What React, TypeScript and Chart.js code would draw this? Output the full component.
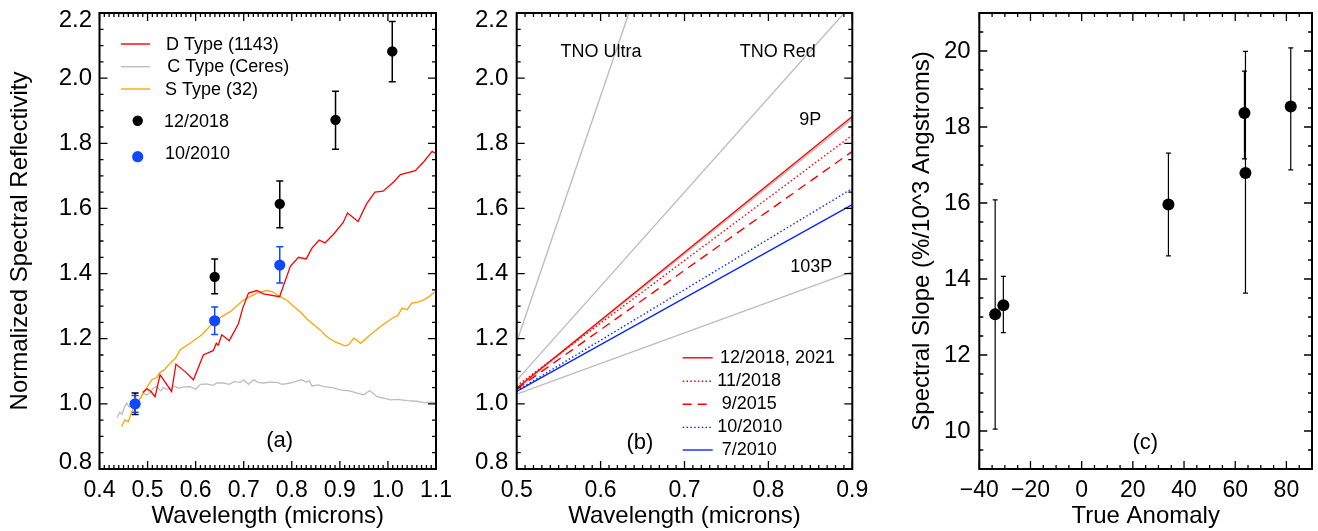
import React, { useEffect, useRef } from 'react';
import { Chart, registerables } from 'chart.js';

Chart.register(...registerables);

const FONT = "'Liberation Sans', Arial, Helvetica, sans-serif";

// ---------------- Panel (a): reflectance spectra ----------------
const dTypeWl = [0.49, 0.499, 0.507, 0.5156, 0.526, 0.55, 0.559, 0.578, 0.5955, 0.616, 0.637, 0.643, 0.647, 0.6545, 0.67, 0.689, 0.698, 0.71, 0.7275, 0.741, 0.7746, 0.797, 0.814, 0.83, 0.842, 0.857, 0.869, 0.8865, 0.907, 0.916, 0.938, 0.9556, 0.973, 0.99, 1.0125, 1.026, 1.057, 1.075, 1.092, 1.1];
const dTypeRefl = [1.035, 1.046, 1.038, 1.022, 1.089, 1.038, 1.122, 1.099, 1.074, 1.15, 1.164, 1.186, 1.18, 1.212, 1.194, 1.246, 1.294, 1.34, 1.348, 1.338, 1.329, 1.422, 1.45, 1.445, 1.478, 1.503, 1.494, 1.52, 1.557, 1.586, 1.56, 1.614, 1.65, 1.653, 1.682, 1.704, 1.716, 1.744, 1.775, 1.768];

const cTypeWl = [0.437, 0.442, 0.447, 0.452, 0.4567, 0.462, 0.468, 0.474, 0.482, 0.491, 0.498, 0.505, 0.512, 0.519, 0.527, 0.533, 0.54, 0.547, 0.556, 0.565, 0.575, 0.5885, 0.6, 0.61, 0.623, 0.635, 0.645, 0.658, 0.67, 0.68, 0.693, 0.7, 0.71, 0.7205, 0.73, 0.741, 0.755, 0.769, 0.78, 0.797, 0.81, 0.821, 0.83, 0.836, 0.842, 0.855, 0.866, 0.885, 0.901, 0.92, 0.936, 0.95, 0.962, 0.9775, 0.99, 1.005, 1.02, 1.04, 1.06, 1.0746, 1.09, 1.1];
const cTypeRefl = [0.958, 0.975, 0.968, 0.99, 1.002, 0.99, 1.008, 1.017, 1.01, 1.033, 1.027, 1.035, 1.048, 1.053, 1.04, 1.05, 1.045, 1.045, 1.055, 1.048, 1.052, 1.053, 1.045, 1.06, 1.061, 1.057, 1.064, 1.064, 1.06, 1.068, 1.066, 1.074, 1.06, 1.074, 1.066, 1.064, 1.067, 1.066, 1.06, 1.064, 1.07, 1.074, 1.066, 1.071, 1.055, 1.058, 1.053, 1.05, 1.043, 1.04, 1.033, 1.028, 1.041, 1.022, 1.018, 1.012, 1.014, 1.01, 1.008, 1.004, 1.005, 1.004];

const sTypeWl = [0.446, 0.453, 0.46, 0.467, 0.4775, 0.486, 0.495, 0.509, 0.518, 0.526, 0.535, 0.547, 0.558, 0.568, 0.5885, 0.613, 0.6406, 0.672, 0.6996, 0.714, 0.7275, 0.748, 0.76, 0.776, 0.79, 0.804, 0.818, 0.832, 0.845, 0.859, 0.87, 0.88, 0.89, 0.901, 0.91, 0.918, 0.923, 0.929, 0.936, 0.943, 0.9635, 0.984, 1.012, 1.02, 1.0296, 1.04, 1.05, 1.062, 1.0746, 1.086, 1.0955, 1.1];
const sTypeRefl = [0.93, 0.951, 0.945, 0.976, 1.002, 1.02, 1.043, 1.074, 1.08, 1.096, 1.105, 1.125, 1.14, 1.166, 1.186, 1.212, 1.256, 1.283, 1.319, 1.33, 1.34, 1.348, 1.344, 1.329, 1.318, 1.299, 1.282, 1.26, 1.244, 1.227, 1.21, 1.199, 1.19, 1.184, 1.178, 1.181, 1.19, 1.202, 1.195, 1.186, 1.212, 1.237, 1.266, 1.27, 1.294, 1.289, 1.309, 1.312, 1.319, 1.33, 1.342, 1.345];

const filterWl2018 = [0.474, 0.6396, 0.775, 0.891, 1.009];
const refl2018 = [1.0, 1.39, 1.614, 1.872, 2.082];
const refl2018Lo = [0.967, 1.338, 1.541, 1.782, 1.989];
const refl2018Hi = [1.033, 1.445, 1.684, 1.96, 2.174];

const filterWl2010 = [0.474, 0.6396, 0.775];
const refl2010 = [1.0, 1.255, 1.426];
const refl2010Lo = [0.974, 1.213, 1.371];
const refl2010Hi = [1.026, 1.297, 1.482];

const aXTicks = [0.4, 0.5, 0.6, 0.7, 0.8, 0.9, 1.0, 1.1];
const reflTicks = [0.8, 1.0, 1.2, 1.4, 1.6, 1.8, 2.0, 2.2];

// ---------------- Panel (b): slope lines ----------------
const slopeWl = [0.5, 0.9];
const tnoUltra = [1.19, 4.21];
const tnoRed = [1.072, 2.228];
const comet9P = [1.045, 1.875];
const comet103P = [1.03, 1.406];
const slope201812 = [1.048, 1.882];
const slope201811 = [1.055, 1.825];
const slope201509 = [1.045, 1.775];
const slope201010 = [1.04, 1.661];
const slope201007 = [1.038, 1.612];
const bXTicks = [0.5, 0.6, 0.7, 0.8, 0.9];

// ---------------- Panel (c): slope vs true anomaly ----------------
const trueAnomaly = [-33.8, -30.6, 33.9, 63.6, 64.0, 81.7];
const spectralSlope = [13.07, 13.31, 15.96, 18.37, 16.79, 18.54];
const spectralSlopeLo = [10.05, 12.59, 14.61, 17.16, 13.63, 16.87];
const spectralSlopeHi = [16.08, 14.07, 17.31, 19.47, 19.99, 20.08];
const anomalyTicks = [-40, -20, 0, 20, 40, 60, 80];
const slopeTicks = [10, 12, 14, 16, 18, 20];

const RED = '#ff0000';
const GRAY = '#bdbdbd';
const ORANGE = '#ffa500';
const BLUE_DOT = '#1048ff';
const BLUE_LINE = '#0a28ff';

const pts = (xs: number[], ys: number[]) => xs.map((x, i) => ({ x, y: ys[i] }));

// ---------------- plugins ----------------
function framePlugin(xMinorStep: number, yMinorStep: number, xMajor: number[], yMajor: number[]) {
  return {
    id: 'frameTicks',
    afterDraw(chart: any) {
      const { ctx, chartArea: a, scales } = chart;
      const xs = scales.x;
      const ys = scales.y;
      ctx.save();
      ctx.strokeStyle = '#000';
      ctx.lineWidth = 1.3;
      ctx.beginPath();
      const nx = Math.round((xs.max - xs.min) / xMinorStep);
      for (let i = 0; i <= nx; i++) {
        const v = xs.min + i * xMinorStep;
        const major = xMajor.some((m) => Math.abs(m - v) < xMinorStep / 10);
        const len = major ? 8 : 4;
        const px = xs.getPixelForValue(v);
        ctx.moveTo(px, a.bottom);
        ctx.lineTo(px, a.bottom - len);
        ctx.moveTo(px, a.top);
        ctx.lineTo(px, a.top + len);
      }
      const ny = Math.round((ys.max - ys.min) / yMinorStep);
      for (let i = 0; i <= ny; i++) {
        const v = ys.min + i * yMinorStep;
        const major = yMajor.some((m) => Math.abs(m - v) < yMinorStep / 10);
        const len = major ? 8 : 4;
        const py = ys.getPixelForValue(v);
        ctx.moveTo(a.left, py);
        ctx.lineTo(a.left + len, py);
        ctx.moveTo(a.right, py);
        ctx.lineTo(a.right - len, py);
      }
      ctx.stroke();
      ctx.lineWidth = 2;
      ctx.strokeRect(a.left, a.top, a.right - a.left, a.bottom - a.top);
      ctx.restore();
    },
  };
}

type ErrSet = { xs: number[]; lo: number[]; hi: number[]; color: string; cap: number; width: number };
function errorBarPlugin(sets: ErrSet[]) {
  return {
    id: 'errorBars',
    beforeDatasetsDraw(chart: any) {
      const { ctx, scales } = chart;
      const x = scales.x;
      const y = scales.y;
      ctx.save();
      for (const s of sets) {
        ctx.strokeStyle = s.color;
        ctx.lineWidth = s.width;
        ctx.beginPath();
        s.xs.forEach((xv, i) => {
          const px = x.getPixelForValue(xv);
          const lo = y.getPixelForValue(s.lo[i]);
          const hi = y.getPixelForValue(s.hi[i]);
          ctx.moveTo(px, lo);
          ctx.lineTo(px, hi);
          ctx.moveTo(px - s.cap, lo);
          ctx.lineTo(px + s.cap, lo);
          ctx.moveTo(px - s.cap, hi);
          ctx.lineTo(px + s.cap, hi);
        });
        ctx.stroke();
      }
      ctx.restore();
    },
  };
}

type TextItem = { text: string; x: number; y: number; size: number };
function textPlugin(items: TextItem[]) {
  return {
    id: 'panelText',
    afterDatasetsDraw(chart: any) {
      const { ctx, scales } = chart;
      ctx.save();
      ctx.fillStyle = '#000';
      ctx.textAlign = 'center';
      ctx.textBaseline = 'middle';
      for (const it of items) {
        ctx.font = `${it.size}px ${FONT}`;
        ctx.fillText(it.text, scales.x.getPixelForValue(it.x), scales.y.getPixelForValue(it.y));
      }
      ctx.restore();
    },
  };
}

type LegendItem = { ds: number; kind: 'line' | 'dot'; x0?: number; x1?: number; cx?: number; dy: number; tx: number; ty: number; text?: string };
function legendPlugin(items: LegendItem[], size: number) {
  return {
    id: 'panelLegend',
    afterDatasetsDraw(chart: any) {
      const { ctx, chartArea: a } = chart;
      ctx.save();
      ctx.font = `${size}px ${FONT}`;
      ctx.textBaseline = 'middle';
      ctx.textAlign = 'left';
      for (const it of items) {
        const ds: any = chart.data.datasets[it.ds];
        const y = a.top + it.dy;
        if (it.kind === 'line') {
          ctx.strokeStyle = ds.borderColor;
          ctx.lineWidth = Math.max(ds.borderWidth, 1.4);
          ctx.setLineDash(ds.borderDash || []);
          ctx.beginPath();
          ctx.moveTo(a.left + (it.x0 as number), y);
          ctx.lineTo(a.left + (it.x1 as number), y);
          ctx.stroke();
          ctx.setLineDash([]);
        } else {
          ctx.fillStyle = ds.backgroundColor;
          ctx.beginPath();
          ctx.arc(a.left + (it.cx as number), y, ds.pointRadius, 0, Math.PI * 2);
          ctx.fill();
        }
        ctx.fillStyle = '#000';
        ctx.fillText(it.text ?? ds.label, a.left + it.tx, a.top + it.ty);
      }
      ctx.restore();
    },
  };
}

// ---------------- scale builders ----------------
function xAxis(min: number, max: number, ticks: number[], fmt: (v: number) => string, title: string) {
  return {
    type: 'linear',
    position: 'bottom',
    min,
    max,
    grid: { display: false, drawTicks: false },
    border: { display: false },
    afterBuildTicks: (s: any) => {
      s.ticks = ticks.map((value) => ({ value }));
    },
    afterFit: (s: any) => {
      s.height = 62;
      s.paddingLeft = 0;
      s.paddingRight = 0;
      s.paddingTop = 0;
      s.paddingBottom = 0;
    },
    ticks: {
      autoSkip: false,
      maxRotation: 0,
      minRotation: 0,
      padding: 8,
      color: '#000',
      font: { family: FONT, size: 23, lineHeight: 1.2 },
      callback: (v: any) => fmt(Number(v)),
    },
    title: {
      display: true,
      text: title,
      color: '#000',
      font: { family: FONT, size: 24, lineHeight: 1.2 },
      padding: { top: 0, bottom: 0 },
    },
  };
}

function yAxis(min: number, max: number, ticks: number[], fmt: (v: number) => string, width: number, pad: number, shiftEnds: boolean, title?: string, titlePad?: number) {
  return {
    type: 'linear',
    position: 'left',
    min,
    max,
    grid: { display: false, drawTicks: false },
    border: { display: false },
    afterBuildTicks: (s: any) => {
      s.ticks = ticks.map((value) => ({ value }));
    },
    afterFit: (s: any) => {
      s.width = width;
      s.paddingLeft = 0;
      s.paddingRight = 0;
      s.paddingTop = 0;
      s.paddingBottom = 0;
    },
    ticks: {
      autoSkip: false,
      padding: pad,
      color: '#000',
      font: { family: FONT, size: 24, lineHeight: 14 / 24 },
      callback: (v: any, i: number, arr: any[]) => {
        const t = fmt(Number(v));
        if (!shiftEnds) return t;
        if (i === 0) return [t, ''];
        if (i === arr.length - 1) return ['', t];
        return t;
      },
    },
    title: title
      ? {
          display: true,
          text: title,
          color: '#000',
          font: { family: FONT, size: 24, lineHeight: 1.2 },
          padding: { top: titlePad ?? 0, bottom: 0 },
        }
      : { display: false },
  };
}

const baseOptions = (padRight: number) => ({
  responsive: false,
  maintainAspectRatio: false,
  animation: false,
  events: [],
  layout: { padding: { left: 0, top: 13, right: padRight, bottom: 0 } },
  plugins: { legend: { display: false }, tooltip: { enabled: false } },
});

const fmt1 = (v: number) => v.toFixed(1);
const fmtInt = (v: number) => (v < 0 ? '\u2212' + Math.abs(v) : String(v));

function configA(): any {
  return {
    type: 'scatter',
    data: {
      datasets: [
        { label: '12/2018', data: pts(filterWl2018, refl2018), backgroundColor: '#000', borderColor: '#000', pointRadius: 5.2, borderWidth: 0, order: 1 },
        { label: '10/2010', data: pts(filterWl2010, refl2010), backgroundColor: BLUE_DOT, borderColor: BLUE_DOT, pointRadius: 5.6, borderWidth: 0, order: 0 },
        { label: 'D Type (1143)', data: pts(dTypeWl, dTypeRefl), showLine: true, borderColor: RED, backgroundColor: RED, borderWidth: 1.3, pointRadius: 0, order: 2 },
        { label: 'C Type (Ceres)', data: pts(cTypeWl, cTypeRefl), showLine: true, borderColor: GRAY, backgroundColor: GRAY, borderWidth: 1.3, pointRadius: 0, order: 4 },
        { label: 'S Type (32)', data: pts(sTypeWl, sTypeRefl), showLine: true, borderColor: ORANGE, backgroundColor: ORANGE, borderWidth: 1.3, pointRadius: 0, order: 3 },
      ],
    },
    options: {
      ...baseOptions(34),
      scales: {
        x: xAxis(0.4, 1.1, aXTicks, fmt1, 'Wavelength (microns)'),
        y: yAxis(0.8, 2.2, reflTicks, fmt1, 99.5, 7.5, true, 'Normalized Spectral Reflectivity', 6.2),
      },
    },
    plugins: [
      errorBarPlugin([
        { xs: filterWl2018, lo: refl2018Lo, hi: refl2018Hi, color: '#000', cap: 3.5, width: 1.5 },
        { xs: filterWl2010, lo: refl2010Lo, hi: refl2010Hi, color: BLUE_DOT, cap: 3.5, width: 1.5 },
      ]),
      legendPlugin(
        [
          { ds: 2, kind: 'line', x0: 21.5, x1: 50.5, dy: 31, tx: 66.5, ty: 32 },
          { ds: 3, kind: 'line', x0: 21.5, x1: 50.5, dy: 53.7, tx: 67.8, ty: 54.3 },
          { ds: 4, kind: 'line', x0: 21.5, x1: 50.5, dy: 76, tx: 65.5, ty: 77 },
          { ds: 0, kind: 'dot', cx: 38.2, dy: 107.7, tx: 64.5, ty: 108.7 },
          { ds: 1, kind: 'dot', cx: 38.2, dy: 143.7, tx: 65.5, ty: 141 },
        ],
        18
      ),
      textPlugin([{ text: '(a)', x: 0.7746, y: 0.885, size: 22 }]),
      framePlugin(0.01, 0.05, aXTicks, reflTicks),
    ],
  };
}

function configB(): any {
  const line = (label: string, ys: number[], color: string, dash: number[], order: number) => ({
    label,
    data: pts(slopeWl, ys),
    showLine: true,
    borderColor: color,
    backgroundColor: color,
    borderWidth: 1.4,
    borderDash: dash,
    pointRadius: 0,
    order,
  });
  return {
    type: 'scatter',
    data: {
      datasets: [
        line('12/2018, 2021', slope201812, RED, [], 0),
        line('11/2018', slope201811, RED, [1.5, 2.3], 1),
        line(' 9/2015', slope201509, RED, [9, 6], 2),
        line('10/2010', slope201010, BLUE_LINE, [1.5, 2.3], 3),
        line(' 7/2010', slope201007, BLUE_LINE, [], 4),
        line('TNO Ultra', tnoUltra, GRAY, [], 5),
        line('TNO Red', tnoRed, GRAY, [], 6),
        line('9P', comet9P, GRAY, [], 7),
        line('103P', comet103P, GRAY, [], 8),
      ],
    },
    options: {
      ...baseOptions(27.7),
      scales: {
        x: xAxis(0.5, 0.9, bXTicks, fmt1, 'Wavelength (microns)'),
        y: yAxis(0.8, 2.2, reflTicks, fmt1, 46.7, 8.4, true),
      },
    },
    plugins: [
      legendPlugin(
        [
          { ds: 0, kind: 'line', x0: 166, x1: 196, dy: 344.8, tx: 203.3, ty: 344.8 },
          { ds: 1, kind: 'line', x0: 166, x1: 196, dy: 368.2, tx: 200.6, ty: 368.2, text: '11/2018' },
          { ds: 2, kind: 'line', x0: 166, x1: 196, dy: 391.3, tx: 205, ty: 391.3, text: '9/2015' },
          { ds: 3, kind: 'line', x0: 166, x1: 196, dy: 414.4, tx: 200.6, ty: 414.4, text: '10/2010' },
          { ds: 4, kind: 'line', x0: 166, x1: 196, dy: 437, tx: 205, ty: 437, text: '7/2010' },
        ],
        18
      ),
      textPlugin([
        { text: 'TNO Ultra', x: 0.6004, y: 2.0795, size: 18 },
        { text: 'TNO Red', x: 0.8111, y: 2.081, size: 18 },
        { text: '9P', x: 0.85, y: 1.872, size: 18 },
        { text: '103P', x: 0.8512, y: 1.421, size: 18 },
        { text: '(b)', x: 0.6468, y: 0.88, size: 22 },
      ]),
      framePlugin(0.01, 0.05, bXTicks, reflTicks),
    ],
  };
}

function configC(): any {
  return {
    type: 'scatter',
    data: {
      datasets: [
        { label: 'Spectral slope', data: pts(trueAnomaly, spectralSlope), backgroundColor: '#000', borderColor: '#000', pointRadius: 6, borderWidth: 0 },
      ],
    },
    options: {
      ...baseOptions(3),
      scales: {
        x: xAxis(-40, 90, anomalyTicks, fmtInt, 'True Anomaly'),
        y: yAxis(9, 21, slopeTicks, fmtInt, 99.3, 8.6, false, 'Spectral Slope (%/10^3 Angstroms)', 27.8),
      },
    },
    plugins: [
      errorBarPlugin([{ xs: trueAnomaly, lo: spectralSlopeLo, hi: spectralSlopeHi, color: '#000', cap: 2.5, width: 1.2 }]),
      textPlugin([{ text: '(c)', x: 24.85, y: 9.695, size: 22 }]),
      framePlugin(5, 0.5, anomalyTicks, slopeTicks),
    ],
  };
}

export default function App() {
  const aRef = useRef<HTMLCanvasElement>(null);
  const bRef = useRef<HTMLCanvasElement>(null);
  const cRef = useRef<HTMLCanvasElement>(null);

  useEffect(() => {
    Chart.defaults.font.family = FONT;
    const charts = [
      new Chart(aRef.current as HTMLCanvasElement, configA()),
      new Chart(bRef.current as HTMLCanvasElement, configB()),
      new Chart(cRef.current as HTMLCanvasElement, configC()),
    ];
    return () => charts.forEach((c) => c.destroy());
  }, []);

  return (
    <div style={{ position: 'absolute', left: 0, top: 0, width: 1318, height: 531, background: '#fff', overflow: 'hidden' }}>
      <canvas ref={aRef} width={470} height={531} style={{ position: 'absolute', left: 0, top: 0, width: 470, height: 531 }} />
      <canvas ref={bRef} width={410} height={531} style={{ position: 'absolute', left: 470, top: 0, width: 410, height: 531 }} />
      <canvas ref={cRef} width={438} height={531} style={{ position: 'absolute', left: 880, top: 0, width: 438, height: 531 }} />
    </div>
  );
}
